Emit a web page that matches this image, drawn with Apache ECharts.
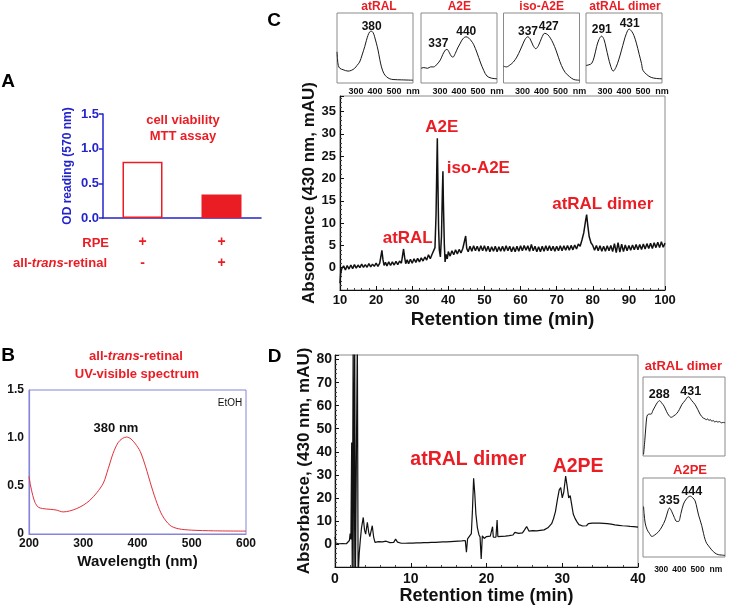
<!DOCTYPE html>
<html><head><meta charset="utf-8">
<script src="https://cdn.jsdelivr.net/npm/echarts@6/dist/echarts.min.js"></script>
<style>html,body{margin:0;padding:0;background:#fff}#c{width:730px;height:613px}</style>
</head><body><div id="c"></div>
<script>
const FONT = '"Liberation Sans", Arial, Helvetica, sans-serif';
const RED = '#ea1d24';
const BLUE = '#2424cc';
const LAV = '#8484dc';
const GRAY = '#8a8a8a';
const INK = '#111111';
const CLEAR = 'rgba(0,0,0,0)';

// ---------- Panel A ----------
const aRPE = ['+', '+'];
const aRetinal = ['-', '+'];
const aOD = [0.81, 0.34];

// ---------- Panel B ----------
const bSpectrum = [[200,0.6],[203,0.5],[207,0.4],[211,0.33],[217,0.28],[225,0.265],[239,0.257],[250,0.25],[263,0.23],[275,0.24],[288,0.265],[300,0.3],[312,0.35],[325,0.43],[337,0.53],[346,0.68],[355,0.84],[364,0.95],[372,0.995],[380,1.01],[388,0.99],[396,0.94],[405,0.86],[415,0.7],[426,0.49],[436,0.32],[446,0.19],[460,0.09],[475,0.055],[500,0.04],[540,0.033],[600,0.03]];

// ---------- Panel C insets ----------
const cInsetTitles = ['atRAL', 'A2E', 'iso-A2E', 'atRAL dimer'];
const cInsetAtRAL = [[200,0.445],[203,0.33],[207,0.25],[215,0.21],[232,0.19],[258,0.17],[275,0.18],[293,0.21],[305,0.25],[319,0.30],[332,0.40],[346,0.52],[355,0.61],[363,0.68],[372,0.73],[381,0.74],[390,0.72],[398,0.66],[407,0.57],[416,0.47],[425,0.34],[434,0.23],[446,0.14],[460,0.09],[478,0.06],[495,0.05],[540,0.045],[600,0.04]];
const cInsetA2E = [[200,0.21],[215,0.22],[235,0.21],[250,0.23],[266,0.23],[285,0.27],[302,0.33],[315,0.41],[328,0.47],[337,0.48],[348,0.44],[360,0.38],[368,0.37],[380,0.42],[393,0.5],[407,0.57],[420,0.63],[437,0.66],[452,0.64],[465,0.6],[477,0.55],[495,0.43],[512,0.30],[530,0.18],[547,0.10],[570,0.07],[600,0.06]];
const cInsetIsoA2E = [[200,0.24],[215,0.23],[235,0.26],[252,0.30],[270,0.37],[288,0.47],[304,0.57],[315,0.63],[327,0.66],[340,0.63],[355,0.54],[370,0.49],[385,0.54],[400,0.64],[417,0.71],[433,0.69],[447,0.64],[461,0.57],[476,0.47],[490,0.36],[505,0.25],[525,0.15],[548,0.09],[570,0.05],[600,0.04]];
const cInsetDimer = [[200,0.25],[215,0.26],[230,0.28],[243,0.37],[256,0.52],[268,0.62],[282,0.67],[295,0.62],[306,0.5],[317,0.37],[330,0.24],[343,0.17],[357,0.22],[372,0.33],[387,0.47],[400,0.6],[413,0.71],[427,0.77],[440,0.74],[452,0.68],[465,0.57],[480,0.41],[492,0.28],[500,0.18],[520,0.12],[543,0.08],[570,0.065],[600,0.06]];
const cInsetCurves = [cInsetAtRAL, cInsetA2E, cInsetIsoA2E, cInsetDimer];
// peak labels: [wavelength, relative height, text]
const cInsetPeaks = [
  [[382.6,0.81,'380']],
  [[291,0.555,'337'],[438,0.74,'440']],
  [[329,0.727,'337'],[438,0.80,'427']],
  [[283,0.756,'291'],[430,0.842,'431']]
];

// ---------- Panel C chromatogram ----------
const cChrom = [[10.0,-3.5],[10.2,-1.2],[10.5,-0.2],[11.0,0.4],[11.5,-0.5],[12.0,0.5],[12.5,-0.3],[13.0,0.6],[13.5,-0.2],[14.0,0.7],[14.5,-0.1],[15.0,0.6],[15.5,0.0],[16.0,0.8],[16.5,0.1],[17.0,0.7],[17.5,0.1],[18.0,0.9],[18.5,0.2],[19.0,0.8],[19.5,0.3],[20.0,1.0],[20.5,0.3],[21.0,1.0],[21.3,2.4],[21.6,3.9],[21.9,1.8],[22.2,0.5],[22.6,1.2],[23.0,0.4],[23.5,1.3],[24.0,0.5],[24.5,1.3],[25.0,0.6],[25.5,1.4],[26.0,0.7],[26.5,1.5],[27.0,1.0],[27.3,2.6],[27.6,4.2],[27.9,2.3],[28.2,0.9],[28.6,1.8],[29.0,0.9],[29.5,1.9],[30.0,1.0],[30.5,2.0],[31.0,1.2],[31.5,2.1],[32.0,1.3],[32.5,2.2],[33.0,1.5],[33.5,2.4],[34.0,1.7],[34.5,2.9],[35.0,2.0],[35.5,3.0],[36.0,2.8],[36.3,4.5],[36.6,12],[36.8,22],[36.95,29],[37.1,20],[37.3,9],[37.5,4],[37.8,2.4],[38.1,7],[38.35,17],[38.5,21.6],[38.65,14],[38.9,5],[39.1,1.3],[39.4,3.0],[39.7,2.0],[40.0,3.6],[40.5,2.6],[41.0,3.8],[41.5,2.9],[42.0,4.0],[42.5,3.1],[43.0,4.1],[43.5,3.3],[44.0,4.3],[44.5,4.0],[44.8,7.1],[45.1,4.3],[45.5,3.6],[46.0,4.8],[46.5,3.7],[47.0,4.9],[47.5,3.8],[48.0,4.8],[48.5,3.7],[49.0,4.9],[49.5,3.8],[50.0,4.9],[50.5,3.7],[51.0,4.8],[51.5,3.6],[52.0,4.7],[52.5,3.7],[53.0,4.8],[53.5,3.6],[54.0,4.7],[54.5,3.7],[55.0,4.8],[55.5,3.7],[56.0,4.9],[56.5,3.8],[57.0,4.8],[57.5,3.6],[58.0,4.7],[58.5,3.6],[59.0,4.8],[59.5,3.7],[60.0,4.9],[60.5,3.8],[61.0,5.0],[61.5,3.9],[62.0,4.9],[62.5,3.7],[63.0,5.2],[63.5,3.8],[64.0,4.8],[64.5,3.6],[65.0,4.7],[65.5,3.6],[66.0,4.8],[66.5,3.7],[67.0,4.9],[67.5,3.8],[68.0,4.9],[68.5,3.8],[69.0,4.8],[69.5,3.7],[70.0,4.8],[70.5,3.8],[71.0,4.9],[71.5,3.8],[72.0,4.9],[72.5,3.9],[73.0,5.0],[73.5,3.9],[74.0,5.0],[74.5,4.0],[75.0,5.1],[75.5,4.2],[76.0,5.3],[76.5,4.8],[77.0,6.2],[77.5,7.8],[78.0,10.5],[78.3,11.9],[78.6,9.6],[79.0,7.0],[79.5,5.6],[80.0,5.0],[80.5,3.9],[81.0,5.0],[81.5,3.8],[82.0,4.9],[82.5,3.7],[83.0,4.8],[83.5,3.7],[84.0,4.9],[84.5,3.8],[85.0,5.0],[85.5,3.6],[86.0,5.4],[86.5,3.4],[87.0,5.6],[87.5,3.5],[88.0,5.3],[88.5,3.6],[89.0,5.1],[89.5,3.8],[90.0,5.0],[90.5,3.9],[91.0,5.1],[91.5,4.0],[92.0,5.2],[92.5,4.0],[93.0,5.2],[93.5,4.1],[94.0,5.3],[94.5,4.2],[95.0,5.4],[95.5,4.3],[96.0,5.5],[96.5,4.3],[97.0,5.6],[97.5,4.5],[98.0,5.7],[98.5,4.5],[99.0,5.8],[99.5,4.6],[100.0,5.5]];
const cPeakNames = [[38.2,31.5,'A2E'],[48.3,22.35,'iso-A2E'],[28.75,6.7,'atRAL'],[82.75,14.15,'atRAL dimer']];

// ---------- Panel D chromatogram ----------
const dChrom = [[0,3.0],[0.1,0.4],[0.3,0.9],[0.5,0.1],[0.75,0.8],[1.0,0.2],[1.25,0.9],[1.5,0.1],[1.75,0.8],[1.9,1.5],[2.0,4.5],[2.1,2],[2.2,44],[2.28,-14],[2.4,90],[2.5,-14],[2.6,90],[2.7,-14],[2.85,-14],[2.95,90],[3.05,-14],[3.2,-4],[3.35,2],[3.5,7],[3.73,11.5],[3.9,6],[4.05,4.3],[4.27,9.4],[4.45,5],[4.6,3.2],[4.92,7.9],[5.1,3],[5.28,0.7],[5.5,0.3],[5.75,1.0],[6.0,0.2],[6.25,0.9],[6.5,0.3],[6.75,1.2],[7.0,1.8],[7.25,0.6],[7.5,1.2],[7.75,0.7],[8.0,2.1],[8.25,0.8],[8.5,1.1],[8.75,0.3],[9.0,1.0],[9.25,0.3],[9.5,1.0],[9.75,0.4],[10.0,1.1],[10.25,0.4],[10.5,1.1],[10.75,0.5],[11.0,1.2],[11.25,0.5],[11.5,1.2],[11.75,0.6],[12.0,1.3],[12.25,0.6],[12.5,1.3],[12.75,0.7],[13.0,1.4],[13.25,0.7],[13.5,1.5],[13.75,0.8],[14.0,1.5],[14.25,0.9],[14.5,1.6],[14.75,0.9],[15.0,1.7],[15.25,1.0],[15.5,1.7],[15.75,1.1],[16.0,1.8],[16.25,1.2],[16.5,1.9],[16.75,1.3],[17.0,2.0],[17.2,1.5],[17.35,-3.6],[17.5,2.2],[17.75,1.8],[18.0,4.5],[18.15,15],[18.3,28.5],[18.45,22],[18.6,13],[18.8,7],[19.0,4.0],[19.15,3],[19.3,-6.5],[19.45,3.5],[19.7,2.4],[20.0,3.2],[20.25,2.5],[20.5,3.4],[20.7,2.8],[20.8,7.5],[20.9,2.9],[21.1,3.6],[21.25,3.0],[21.4,10.4],[21.5,3.2],[21.75,3.9],[22.0,3.3],[22.25,4.0],[22.5,3.4],[22.75,4.1],[23.0,3.6],[23.25,4.4],[23.5,3.9],[23.75,5.0],[24.0,5.8],[24.25,4.6],[24.5,5.3],[24.75,4.8],[25.0,6.0],[25.3,7.6],[25.6,5.6],[25.85,5.2],[26.1,5.8],[26.35,5.0],[26.6,5.7],[26.85,5.1],[27.1,5.9],[27.35,5.3],[27.6,6.1],[27.85,6.0],[28.1,7.0],[28.35,7.6],[28.6,8.8],[28.85,11],[29.1,14],[29.35,19],[29.6,23.5],[29.8,24.5],[30.0,20],[30.2,22.5],[30.45,29.5],[30.65,25],[30.85,20],[31.05,21],[31.25,17],[31.45,13],[31.7,11],[31.95,9.6],[32.2,8.4],[32.45,9.0],[32.7,7.8],[32.95,8.6],[33.2,7.9],[33.45,8.8],[33.7,8.1],[33.95,9.0],[34.2,8.3],[34.45,9.1],[34.7,8.4],[34.95,9.0],[35.2,8.3],[35.45,8.9],[35.7,8.2],[35.95,8.8],[36.2,8.0],[36.45,8.6],[36.7,7.8],[36.95,8.3],[37.2,7.6],[37.45,8.1],[37.7,7.4],[37.95,7.9],[38.2,7.3],[38.45,7.8],[38.7,7.2],[38.95,7.6],[39.2,7.0],[39.45,7.5],[39.7,6.9],[40.0,7.3]];
const dPeakNames = [[17.6,36.5,'atRAL dimer'],[32.1,33.5,'A2PE']];

// ---------- Panel D insets ----------
const dInsetTitles = ['atRAL dimer', 'A2PE'];
const dInsetDimer = [[203,0.02],[210,0.2],[216,0.38],[220,0.48],[225,0.52],[235,0.53],[244,0.53],[255,0.58],[267,0.63],[280,0.68],[291,0.70],[303,0.67],[316,0.63],[330,0.56],[343,0.51],[355,0.49],[370,0.51],[386,0.54],[400,0.59],[413,0.65],[430,0.70],[449,0.75],[468,0.70],[486,0.65],[500,0.59],[513,0.53],[522,0.5],[531,0.48],[540,0.47],[548,0.46],[555,0.47],[562,0.45],[570,0.46],[578,0.44],[586,0.45],[594,0.43],[602,0.44],[610,0.43],[620,0.435],[630,0.42],[640,0.425],[650,0.42]];
const dInsetA2PE = [[203,0.64],[206,0.55],[212,0.43],[222,0.35],[235,0.3],[249,0.26],[265,0.28],[285,0.32],[303,0.38],[322,0.47],[335,0.57],[345,0.62],[357,0.58],[372,0.5],[385,0.45],[395,0.45],[408,0.55],[422,0.67],[440,0.74],[459,0.77],[473,0.75],[486,0.71],[496,0.62],[505,0.53],[513,0.47],[522,0.40],[532,0.3],[541,0.22],[550,0.17],[560,0.14],[577,0.09],[595,0.05],[613,0.03],[630,0.025],[650,0.02]];
const dInsetCurves = [dInsetDimer, dInsetA2PE];
const dInsetPeaks = [
  [[289,0.777,'288'],[462,0.82,'431']],
  [[344,0.716,'335'],[468,0.83,'444']]
];

// ================= build =================
const chart = echarts.init(document.getElementById('c'), null, {renderer: 'canvas'});
const grids = [], xAxes = [], yAxes = [], series = [];
function g(o){ o.outerBoundsMode = 'none'; o.containLabel = false; grids.push(o); return grids.length - 1; }
const txt = (size, color, weight) => ({fontFamily: FONT, fontSize: size, color: color, fontWeight: weight || 'bold'});
function labelSeries(xi, yi, data, size, color) {
  return {type: 'scatter', xAxisIndex: xi, yAxisIndex: yi, data: data, symbol: 'circle', symbolSize: 1,
    clip: false, silent: true, z: 10, itemStyle: {color: CLEAR, borderWidth: 0, opacity: 1},
    emphasis: {disabled: true},
    label: Object.assign(txt(size, color), {show: true, position: 'inside', opacity: 1,
      textBorderWidth: 0, textShadowBlur: 0, formatter: p => p.data[2]})};
}

// Panel A
const gA = g({left: 103, top: 114, width: 158, height: 104});
xAxes.push({gridIndex: gA, type: 'category', data: aRPE.map((r, i) => r + '\n' + aRetinal[i]),
  axisLine: {lineStyle: {color: BLUE, width: 1.5}}, axisTick: {show: false},
  axisLabel: Object.assign(txt(14, RED), {lineHeight: 21, margin: 14})});
yAxes.push({gridIndex: gA, type: 'value', min: 0, max: 1.5, interval: 0.5,
  axisLine: {show: true, lineStyle: {color: BLUE, width: 1.5}},
  axisTick: {show: true, length: 4, lineStyle: {color: BLUE, width: 1.5}},
  splitLine: {show: false},
  axisLabel: Object.assign(txt(13, BLUE), {margin: 4, formatter: v => v.toFixed(1)}),
  name: 'OD reading (570 nm)', nameLocation: 'middle', nameRotate: 90, nameGap: 29,
  nameTextStyle: txt(12, BLUE)});
series.push({type: 'bar', xAxisIndex: xAxes.length - 1, yAxisIndex: yAxes.length - 1, barWidth: 40,
  data: aOD.map((v, i) => ({value: v, itemStyle: i === 0 ? {color: '#fff', borderColor: RED, borderWidth: 1.5} : {color: RED}}))});

// Panel B
const gB = g({left: 29, top: 390, width: 217, height: 144, show: true, borderColor: LAV, borderWidth: 1});
xAxes.push({gridIndex: gB, type: 'value', min: 200, max: 600, interval: 100,
  axisLine: {show: true, lineStyle: {color: LAV, width: 1.2}}, axisTick: {show: false}, splitLine: {show: false},
  axisLabel: Object.assign(txt(12, INK), {margin: 4}),
  name: 'Wavelength (nm)', nameLocation: 'middle', nameGap: 20, nameTextStyle: txt(15, INK)});
yAxes.push({gridIndex: gB, type: 'value', min: 0, max: 1.5, interval: 0.5,
  axisLine: {show: true, lineStyle: {color: LAV, width: 1.2}}, axisTick: {show: false}, splitLine: {show: false},
  axisLabel: Object.assign(txt(12, INK), {margin: 5, formatter: v => v === 0 ? '0' : v.toFixed(1)})});
series.push({type: 'line', xAxisIndex: xAxes.length - 1, yAxisIndex: yAxes.length - 1, data: bSpectrum,
  showSymbol: false, smooth: 0.3, lineStyle: {color: '#e0303a', width: 1}});

// helper for inset spectra
function inset(grid, curve, peaks, xmax, showX, labelSize, labelMargin, peakSize) {
  const gi = g(grid);
  xAxes.push({gridIndex: gi, type: 'value', min: 200, max: xmax, interval: 100,
    axisLine: {show: false}, axisTick: {show: false}, splitLine: {show: false},
    axisLabel: Object.assign(txt(labelSize, INK), {show: showX, margin: labelMargin, showMinLabel: false, showMaxLabel: xmax === 600,
      formatter: v => v === 600 ? 'nm' : (v === 200 || v > 600 ? '' : String(v))})});
  yAxes.push({gridIndex: gi, type: 'value', min: 0, max: 1, show: false, splitLine: {show: false}});
  const xi = xAxes.length - 1, yi = yAxes.length - 1;
  series.push({type: 'line', xAxisIndex: xi, yAxisIndex: yi, data: curve, showSymbol: false, smooth: 0.35,
    lineStyle: {color: '#1a1a1a', width: 1}});
  series.push(labelSeries(xi, yi, peaks, peakSize, INK));
}

// Panel C insets
const cInsetLefts = [337, 421, 503.5, 586];
cInsetCurves.forEach((curve, i) => {
  inset({left: cInsetLefts[i], top: 13, width: 76, height: 70, show: true, borderColor: GRAY, borderWidth: 1},
    curve, cInsetPeaks[i], 600, true, 9, 4, 12);
});

// Panel C main
const gC = g({left: 340, top: 96, width: 325, height: 194, show: true, borderColor: GRAY, borderWidth: 1});
xAxes.push({gridIndex: gC, type: 'value', min: 10, max: 100, interval: 10,
  axisLine: {show: true, onZero: false, lineStyle: {color: INK, width: 1.2}},
  axisTick: {show: true, inside: true, length: 4, lineStyle: {color: INK}},
  minorTick: {show: true, splitNumber: 5, length: 2, lineStyle: {color: '#444'}},
  splitLine: {show: false},
  axisLabel: Object.assign(txt(13, INK), {margin: 4}),
  name: 'Retention time (min)', nameLocation: 'middle', nameGap: 20, nameTextStyle: txt(19, INK)});
yAxes.push({gridIndex: gC, type: 'value', min: -5, max: 38.5, interval: 5,
  axisLine: {show: true, onZero: false, lineStyle: {color: INK, width: 1.2}},
  axisTick: {show: true, inside: true, length: 4, lineStyle: {color: INK}},
  minorTick: {show: true, splitNumber: 5, length: 2, lineStyle: {color: '#444'}},
  splitLine: {show: false},
  axisLabel: Object.assign(txt(13, INK), {margin: 4, showMaxLabel: false, formatter: v => (v < 0 || v > 35) ? '' : String(v)}),
  name: 'Absorbance (430 nm, mAU)', nameLocation: 'middle', nameRotate: 90, nameGap: 18, nameTextStyle: txt(17, INK)});
series.push({type: 'line', xAxisIndex: xAxes.length - 1, yAxisIndex: yAxes.length - 1, data: cChrom,
  showSymbol: false, lineStyle: {color: INK, width: 1.5}});
series.push(labelSeries(xAxes.length - 1, yAxes.length - 1, cPeakNames, 17, RED));

// Panel D main
const gD = g({left: 335, top: 355, width: 303, height: 212, show: true, borderColor: GRAY, borderWidth: 1});
xAxes.push({gridIndex: gD, type: 'value', min: 0, max: 40, interval: 10,
  axisLine: {show: true, onZero: false, lineStyle: {color: INK, width: 1.2}},
  axisTick: {show: true, inside: true, length: 4, lineStyle: {color: INK}},
  minorTick: {show: true, splitNumber: 5, length: 2, lineStyle: {color: '#444'}},
  splitLine: {show: false},
  axisLabel: Object.assign(txt(14, INK), {margin: 5}),
  name: 'Retention time (min)', nameLocation: 'middle', nameGap: 19, nameTextStyle: txt(18, INK)});
yAxes.push({gridIndex: gD, type: 'value', min: -10, max: 82, interval: 10,
  axisLine: {show: true, onZero: false, lineStyle: {color: INK, width: 1.2}},
  axisTick: {show: true, inside: true, length: 4, lineStyle: {color: INK}},
  minorTick: {show: true, splitNumber: 5, length: 2, lineStyle: {color: '#444'}},
  splitLine: {show: false},
  axisLabel: Object.assign(txt(14, INK), {margin: 3, showMaxLabel: false, formatter: v => (v < 0 || v > 80) ? '' : String(v)}),
  name: 'Absorbance, (430 nm, mAU)', nameLocation: 'middle', nameRotate: 90, nameGap: 17, nameTextStyle: txt(17, INK)});
series.push({type: 'line', xAxisIndex: xAxes.length - 1, yAxisIndex: yAxes.length - 1, data: dChrom,
  showSymbol: false, lineStyle: {color: INK, width: 1.2}});
series.push(labelSeries(xAxes.length - 1, yAxes.length - 1, dPeakNames, 19.5, RED));

// Panel D insets
const dInsetTops = [377, 478];
dInsetCurves.forEach((curve, i) => {
  inset({left: 643, top: dInsetTops[i], width: 82, height: 79, show: true, borderColor: GRAY, borderWidth: 1},
    curve, dInsetPeaks[i], 650, i === 1, 8.5, 8, 12.5);
});

// ---------- texts ----------
function T(text, x, y, size, color, weight, align, extra) {
  return {type: 'text', x: x, y: y, silent: true, z: 100,
    style: Object.assign({text: text, fontFamily: FONT, fontSize: size, fontWeight: weight || 'bold', fill: color,
      align: align || 'center', verticalAlign: 'middle', textAlign: align || 'center', textVerticalAlign: 'middle'}, extra || {})};
}
const richRed = {
  n: {fontFamily: FONT, fontSize: 13, fontWeight: 'bold', fill: RED, color: RED},
  i: {fontFamily: FONT, fontSize: 13, fontWeight: 'bold', fontStyle: 'italic', fill: RED, color: RED}
};
const graphics = [
  T('A', 8, 82, 19, '#000'),
  T('B', 8, 355.5, 19, '#000'),
  T('C', 274, 20.7, 19, '#000'),
  T('D', 274.5, 356.7, 19, '#000'),
  T('cell viability', 183, 120.7, 13, RED),
  T('MTT assay', 183, 136.5, 13, RED),
  T('RPE', 109, 243.3, 13, RED, 'bold', 'right'),
  T('{n|all-}{i|trans}{n|-retinal}', 107, 263.3, 13, RED, 'bold', 'right', {rich: richRed}),
  T('{n|all-}{i|trans}{n|-retinal}', 136, 356.7, 13, RED, 'bold', 'center', {rich: richRed}),
  T('UV-visible spectrum', 137, 374, 13, RED),
  T('380 nm', 116, 428.3, 13, INK),
  T('EtOH', 230, 403, 10, INK, 'normal'),
  T(cInsetTitles[0], 379, 6.5, 12, RED),
  T(cInsetTitles[1], 459.3, 6.5, 12, RED),
  T(cInsetTitles[2], 541.7, 6.5, 12, RED),
  T(cInsetTitles[3], 625, 6.5, 12, RED),
  T(dInsetTitles[0], 683.5, 366.7, 13, RED),
  T(dInsetTitles[1], 690, 470.7, 13, RED)
];

chart.setOption({
  animation: false,
  backgroundColor: '#ffffff',
  textStyle: {fontFamily: FONT},
  grid: grids, xAxis: xAxes, yAxis: yAxes, series: series,
  graphic: graphics
});
</script></body></html>
